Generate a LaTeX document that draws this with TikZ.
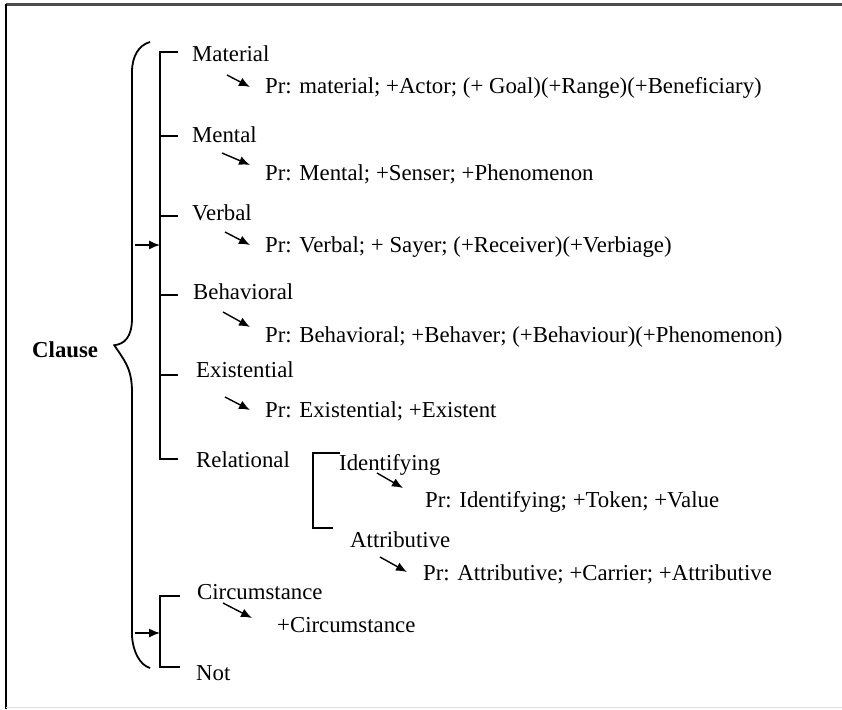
\documentclass[tikz,border=0pt]{standalone}
\usepackage{fontspec}
\setmainfont{Liberation Serif}
\usepackage{tikz}
\usetikzlibrary{arrows.meta, calc}

\begin{document}
\begin{tikzpicture}[x=1pt, y=-1pt,
    lbl/.style={anchor=base west, inner sep=0pt, font=\fontsize{22.8}{27}\selectfont},
    tree/.style={draw, line width=1.8pt},
    line/.style={draw, -{Latex[length=11pt,width=9pt]}, line width=1.4pt},
    frame/.style={draw, line width=1.6pt}]

    \useasboundingbox (0,0) rectangle (842,709);

    % Rahmen
    \draw [line width=3pt, black!70] (6,5) -- (842,5);
    \draw [frame] (6,4) -- (6,709);
    \draw [black!12] (6,707) -- (842,707);

    % Nodes
    \node [lbl, font=\fontsize{22.8}{27}\selectfont\bfseries] (clause) at (32,357) {Clause};

    \node [lbl] (material) at (192,62)  {Material};
    \node [lbl] (prmat)    at (265,93)  {Pr: material; +Actor; (+ Goal)(+Range)(+Beneficiary)};
    \node [lbl] (mental)   at (192,142) {Mental};
    \node [lbl] (prment)   at (265,180) {Pr: Mental; +Senser; +Phenomenon};
    \node [lbl] (verbal)   at (192,220) {Verbal};
    \node [lbl] (prverb)   at (265,252) {Pr: Verbal; + Sayer; (+Receiver)(+Verbiage)};
    \node [lbl] (behav)    at (193,299) {Behavioral};
    \node [lbl] (prbeh)    at (265,342) {Pr: Behavioral; +Behaver; (+Behaviour)(+Phenomenon)};
    \node [lbl] (exist)    at (196,377) {Existential};
    \node [lbl] (prexi)    at (265,417) {Pr: Existential; +Existent};
    \node [lbl] (relat)    at (196,467) {Relational};

    % Relational-Zweig
    \node [lbl] (ident)    at (339,470) {Identifying};
    \node [lbl] (prident)  at (425,507) {Pr: Identifying; +Token; +Value};
    \node [lbl] (attrib)   at (350,547) {Attributive};
    \node [lbl] (prattr)   at (423,580) {Pr: Attributive; +Carrier; +Attributive};

    % Circumstance
    \node [lbl] (circ)     at (197,599) {Circumstance};
    \node [lbl] (prcirc)   at (277,632) {+Circumstance};
    \node [lbl] (nott)     at (196,680) {Not};

    % Klammer
    \coordinate (bracetop) at (150,42);
    \coordinate (bracetip) at ($(clause.east)+(16,-4)$);
    \coordinate (bracebot) at (150,668);
    \draw [tree] (bracetop) .. controls (139,45) and (132,56) .. (132,72)
        -- (132,318) .. controls (132,338) and (124,344) .. (bracetip)
        .. controls (124,360) and (132,368) .. (132,392)
        -- (132,636) .. controls (133,652) and (140,665) .. (bracebot);

    % Paths
    \draw [tree] (178,52) -- (160,52) -- (160,459) -- (178,459);
    \foreach \y in {136,216,295,375}
        \draw [tree] (160,\y) -- (178,\y);
    \draw [tree] (340,453) -- (313,453) -- (313,528) -- (333,528);
    \draw [tree] (180,596) -- (160,596) -- (160,667) -- (180,667);

    \path [line] (135,245) -- (160,245);
    \path [line] (135,633) -- (160,633);

    % kleine Pfeile
    \path [line] ($(prmat.base west)+(-38,-18)$)   -- ($(prmat.base west)+(-15,-6)$);
    \path [line] ($(prment.base west)+(-43,-27)$)  -- ($(prment.base west)+(-15,-15)$);
    \path [line] ($(prverb.base west)+(-40,-20)$)  -- ($(prverb.base west)+(-15,-7)$);
    \path [line] ($(prbeh.base west)+(-42,-30)$)   -- ($(prbeh.base west)+(-15,-15)$);
    \path [line] ($(prexi.base west)+(-40,-20)$)   -- ($(prexi.base west)+(-15,-7)$);
    \path [line] ($(prident.base west)+(-48,-34)$) -- ($(prident.base west)+(-22,-19)$);
    \path [line] ($(prattr.base west)+(-43,-23)$)  -- ($(prattr.base west)+(-16,-8)$);
    \path [line] ($(prcirc.base west)+(-54,-29)$)  -- ($(prcirc.base west)+(-25,-14)$);

\end{tikzpicture}
\end{document}
